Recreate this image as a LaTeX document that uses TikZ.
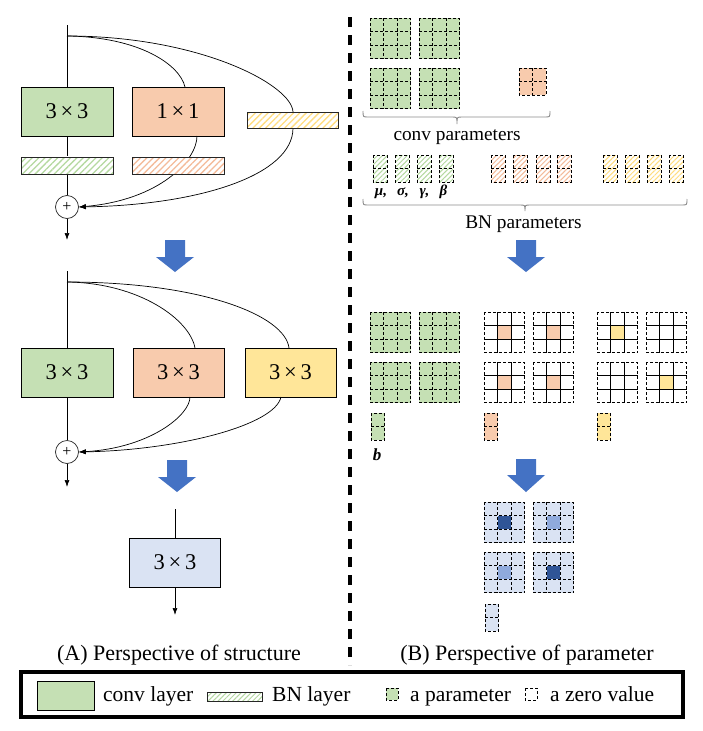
\documentclass[tikz,border=0pt]{standalone}
\usepackage{fontspec}
\setmainfont{Liberation Serif}
\usetikzlibrary{arrows.meta,patterns.meta}
\definecolor{cgreen}{HTML}{C5E0B4}
\definecolor{corange}{HTML}{F8CBAD}
\definecolor{cyellow}{HTML}{FFE699}
\definecolor{cblue}{HTML}{DAE3F3}
\definecolor{cdblue}{HTML}{2F5597}
\definecolor{cmblue}{HTML}{8FAADC}
\definecolor{carrow}{HTML}{4472C4}
\definecolor{hgreen}{HTML}{B5D9A0}
\definecolor{horange}{HTML}{F4BB9A}
\definecolor{hyellow}{HTML}{FFDD80}
\newcommand{\csz}{13.5}
\newcommand{\pgrid}[7]{%
  \fill[#5] (#1,#2) rectangle ({#1+#3*\csz},{#2+#4*\csz});
  \path[#7] ({#1+\csz},{#2+\csz}) rectangle ++(\csz,\csz);
  \ifnum#3>1 \foreach \i in {2,...,#3}{\draw[#6] ({#1+(\i-1)*\csz},#2) -- ++(0,{#4*\csz});}\fi
  \ifnum#4>1 \foreach \j in {2,...,#4}{\draw[#6] (#1,{#2+(\j-1)*\csz}) -- ++({#3*\csz},0);}\fi
  \draw[gdash] (#1,#2) rectangle ({#1+#3*\csz},{#2+#4*\csz});
}
\newcommand{\bnpar}[3]{%
  \path[fill=white] (#1,#2) rectangle ++(14,27);
  \path[pattern={Lines[angle=45,distance=3.5pt,line width=1pt]}, pattern color=#3] (#1,#2) rectangle ++(14,27);
  \draw[gdash] (#1,#2) rectangle ++(14,27);
  \draw[gdash] (#1,{#2+13.5}) -- ++(14,0);
}
\newcommand{\barrow}[4]{%
  \fill[carrow] ({#1-10},#2) -- ({#1+10},#2) -- ({#1+10},#3) -- ({#1+19},#3) -- (#1,#4) -- ({#1-19},#3) -- ({#1-10},#3) -- cycle;
}
% manual flat brace: x1, x2, xmid, ytop, yline, ytip
\newcommand{\flatbrace}[6]{%
  \draw[brc] (#1,#4) .. controls (#1,#5) .. ({#1+5},#5) -- ({#3-5},#5)
    .. controls (#3,#5) .. (#3,#6) .. controls (#3,#5) .. ({#3+5},#5)
    -- ({#2-5},#5) .. controls (#2,#5) .. (#2,#4);
}
\tikzset{
  gdash/.style={dash pattern=on 3pt off 2pt, line width=0.7pt},
  layer/.style={draw=black, line width=0.8pt, minimum width=92pt, minimum height=49pt, inner sep=0pt, font=\fontsize{22.5}{26}\selectfont},
  bnbar/.style={draw=black!85, line width=0.7pt, minimum width=92pt, minimum height=17pt, inner sep=0pt,
    preaction={fill=white}, pattern={Lines[angle=45,distance=4.5pt,line width=1.3pt]}},
  plus/.style={circle, draw=black!85, line width=0.7pt, minimum size=23pt, inner sep=0pt, font=\fontsize{16}{16}\selectfont},
  arr/.style={-{Latex[length=7pt,width=5pt]}},
  conn/.style={line width=0.7pt},
  brc/.style={draw=black!45, line width=0.9pt},
  lbl/.style={font=\fontsize{19.3}{22}\selectfont},
  leg/.style={font=\fontsize{21.5}{24}\selectfont, anchor=base west, inner sep=0pt},
  captxt/.style={font=\fontsize{22}{26}\selectfont, anchor=base, inner sep=0pt},
  greek/.style={font=\bfseries\itshape\fontsize{15}{15}\selectfont, anchor=base, inner sep=0pt}
}
\begin{document}
\begin{tikzpicture}[x=1pt,y=-1pt]
\useasboundingbox (0,0) rectangle (703,731);
\fill[white] (0,0) rectangle (703,731);

% ---------- (A) top block ----------
\coordinate (t0) at (67,25);
\coordinate (s1) at (67,36);
\coordinate (ain) at (185,87);
\coordinate (aout) at (197,136);
\coordinate (yin) at (293,112);
\coordinate (yout) at (293,128);
\draw[conn] (s1) .. controls (140,37) and (180,65) .. (ain);
\draw[conn] (s1) .. controls (200,36) and (292,85) .. (yin);
\node[layer, fill=cgreen] (ga) at (67,111.5) {3\,×\,3};
\node[layer, fill=corange] (oa) at (178,111.5) {1\,×\,1};
\node[plus] (p1) at (67,207) {+};
\draw[conn,arr] (aout) .. controls (197,160) and (160,200) .. (p1.east);
\draw[conn,arr] (yout) .. controls (293,175) and (200,205) .. (p1.east);
\node[bnbar, pattern color=hgreen] (gb) at (67,165.5) {};
\node[bnbar, pattern color=horange] (ob) at (178,165.5) {};
\node[bnbar, pattern color=hyellow, minimum width=91pt, minimum height=16pt] (yb) at (292.5,120) {};
\coordinate (o1) at (67,240);
\draw[conn] (t0) -- (ga.north);
\draw[conn] (ga.south) -- (gb.north);
\draw[conn] (gb.south) -- (p1.north);
\draw[conn,arr] (p1.south) -- (o1);

\barrow{175}{240}{257}{272}

% ---------- (A) middle block ----------
\coordinate (t1) at (67,271);
\coordinate (s2) at (67,282);
\coordinate (bin) at (195,348);
\coordinate (bout) at (190,397);
\coordinate (cin) at (289,348);
\coordinate (cout) at (281,397);
\draw[conn] (s2) .. controls (140,283) and (190,320) .. (bin);
\draw[conn] (s2) .. controls (200,282) and (285,315) .. (cin);
\node[layer, fill=cgreen] (gm) at (67,372.5) {3\,×\,3};
\node[layer, fill=corange, minimum width=91pt] (om) at (178.5,372.5) {3\,×\,3};
\node[layer, fill=cyellow, minimum width=91pt] (ym) at (290.5,372.5) {3\,×\,3};
\node[plus] (p2) at (67,452) {+};
\draw[conn,arr] (bout) .. controls (190,415) and (150,448) .. (p2.east);
\draw[conn,arr] (cout) .. controls (275,425) and (180,450) .. (p2.east);
\coordinate (o2) at (67,487);
\draw[conn] (t1) -- (gm.north);
\draw[conn] (gm.south) -- (p2.north);
\draw[conn,arr] (p2.south) -- (o2);

\barrow{177}{460}{477}{492}

% ---------- (A) bottom ----------
\coordinate (t2) at (175,509);
\node[layer, fill=cblue, minimum width=91pt] (bb) at (175,562.5) {3\,×\,3};
\coordinate (o3) at (175,615);
\draw[conn] (t2) -- (bb.north);
\draw[conn,arr] (bb.south) -- (o3);

\node[captxt] (capA) at (179,660) {(A) Perspective of structure};

% ---------- divider ----------
\coordinate (d1) at (350,17);
\coordinate (d2) at (350,665);
\draw[line width=3.2pt, dash pattern=on 10pt off 8pt] (d1) -- (d2);

% ---------- (B) conv parameters ----------
\pgrid{370}{18}{3}{3}{cgreen}{gdash}{}
\pgrid{419}{18}{3}{3}{cgreen}{gdash}{}
\pgrid{370}{68}{3}{3}{cgreen}{gdash}{}
\pgrid{419}{68}{3}{3}{cgreen}{gdash}{}
\pgrid{519}{68}{2}{2}{corange}{gdash}{}
\flatbrace{363}{550}{457}{111}{117}{124}
\node[lbl] (convp) at (457,137) {conv parameters};

% ---------- (B) BN parameters ----------
\bnpar{373}{155}{hgreen}
\bnpar{395}{155}{hgreen}
\bnpar{417}{155}{hgreen}
\bnpar{439}{155}{hgreen}
\bnpar{491}{155}{horange}
\bnpar{513}{155}{horange}
\bnpar{536}{155}{horange}
\bnpar{557}{155}{horange}
\bnpar{603}{155}{hyellow}
\bnpar{625}{155}{hyellow}
\bnpar{647}{155}{hyellow}
\bnpar{669}{155}{hyellow}
\node[greek] (mu) at (381,195) {μ,};
\node[greek] (sigma) at (403,195) {σ,};
\node[greek] (gamma) at (424.5,195) {γ,};
\node[greek] (beta) at (443.5,195) {β};
\flatbrace{363}{687}{525}{199}{205}{211}
\node[lbl] (bnp) at (523.5,224) {BN parameters};

\barrow{526}{240}{257}{272}

% ---------- (B) converted ----------
\pgrid{370}{312}{3}{3}{cgreen}{gdash}{}
\pgrid{419}{312}{3}{3}{cgreen}{gdash}{}
\pgrid{370}{362}{3}{3}{cgreen}{gdash}{}
\pgrid{419}{362}{3}{3}{cgreen}{gdash}{}
\pgrid{484}{312}{3}{3}{white}{line width=0.8pt}{fill=corange}
\pgrid{533}{312}{3}{3}{white}{line width=0.8pt}{fill=corange}
\pgrid{484}{362}{3}{3}{white}{line width=0.8pt}{fill=corange}
\pgrid{533}{362}{3}{3}{white}{line width=0.8pt}{fill=corange}
\pgrid{597}{312}{3}{3}{white}{line width=0.8pt}{fill=cyellow}
\pgrid{646}{312}{3}{3}{white}{line width=0.8pt}{}
\pgrid{597}{362}{3}{3}{white}{line width=0.8pt}{}
\pgrid{646}{362}{3}{3}{white}{line width=0.8pt}{fill=cyellow}
\pgrid{371}{413}{1}{2}{cgreen}{gdash}{}
\pgrid{484}{413}{1}{2}{corange}{gdash}{}
\pgrid{597}{413}{1}{2}{cyellow}{gdash}{}
\node[greek, font=\bfseries\itshape\fontsize{17}{17}\selectfont] (bias) at (377,460) {b};

\barrow{526}{459}{475}{492}

% ---------- (B) merged ----------
\pgrid{484}{502}{3}{3}{cblue}{gdash}{fill=cdblue}
\pgrid{533}{502}{3}{3}{cblue}{gdash}{fill=cmblue}
\pgrid{484}{552}{3}{3}{cblue}{gdash}{fill=cmblue}
\pgrid{533}{552}{3}{3}{cblue}{gdash}{fill=cdblue}
\pgrid{485}{604}{1}{2}{cblue}{gdash}{}

\node[captxt] (capB) at (527,660) {(B) Perspective of parameter};

% ---------- legend ----------
\draw[line width=3.2pt] (21,672) rectangle (683,717);
\draw[fill=cgreen, line width=0.8pt] (37,681) rectangle (94,710);
\node[leg] (l1) at (103,701) {conv layer};
\path[fill=white] (207,692) rectangle (262,701);
\path[pattern={Lines[angle=45,distance=3.5pt,line width=1pt]}, pattern color=hgreen] (207,692) rectangle (262,701);
\draw[line width=0.7pt, draw=black!85] (207,692) rectangle (262,701);
\node[leg] (l2) at (272,701) {BN layer};
\draw[gdash, fill=cgreen] (386,688) rectangle (398,700);
\node[leg] (l3) at (410,701) {a parameter};
\draw[gdash] (525,688) rectangle (537,700);
\node[leg] (l4) at (550,701) {a zero value};
\end{tikzpicture}
\end{document}
